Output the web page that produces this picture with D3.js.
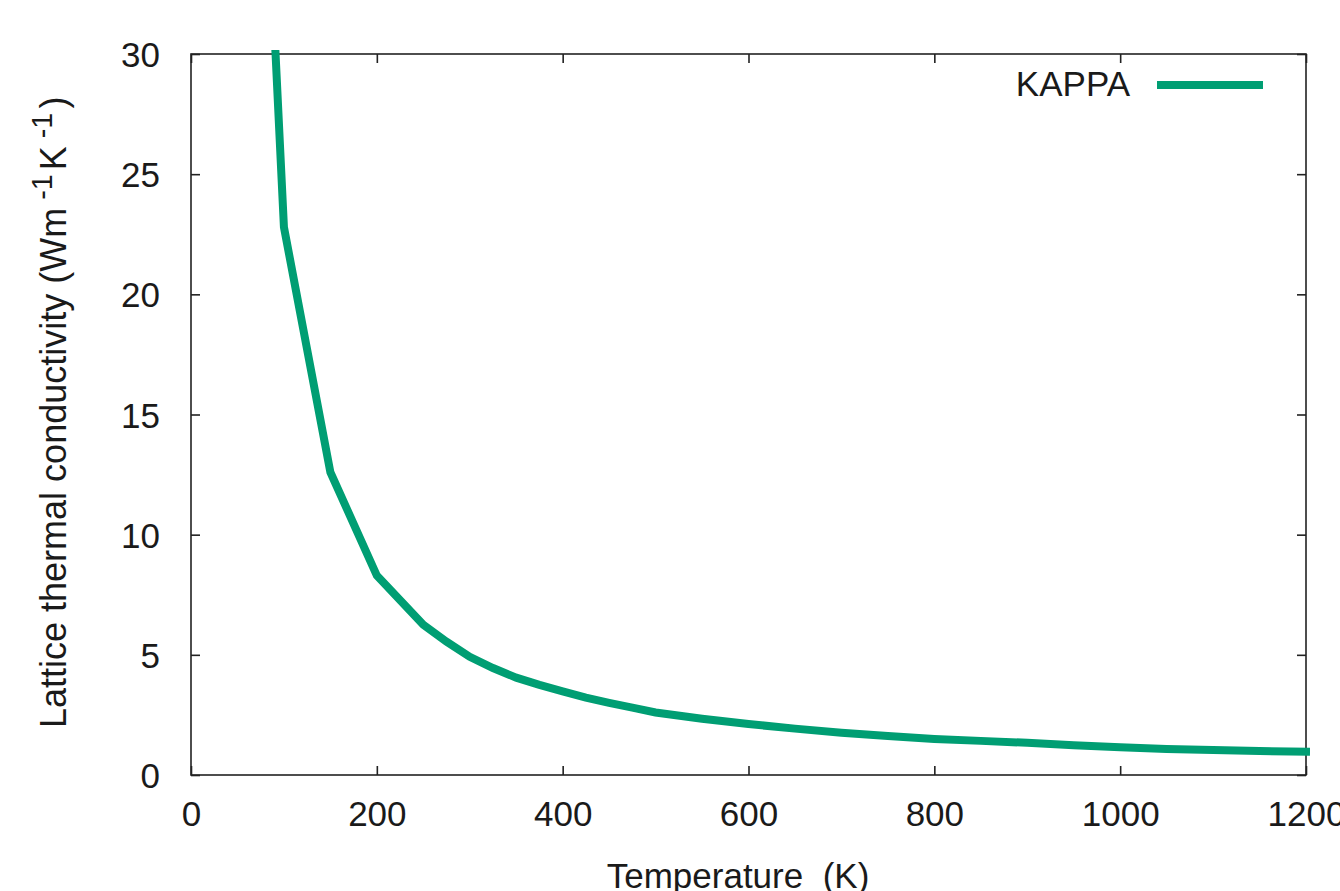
<!DOCTYPE html>
<html>
<head>
<meta charset="utf-8">
<script src="https://cdn.jsdelivr.net/npm/d3@7"></script>
<style>
  html, body { margin: 0; padding: 0; background: #fff; }
  svg { display: block; }
  text { font-family: "Liberation Sans", Arial, sans-serif; fill: #1a1a1a; }
</style>
</head>
<body>
<script>
// Data
const temperature = [90, 100, 150, 200, 250, 275, 300, 325, 350, 375, 400, 425, 450, 475, 500, 550, 600, 650, 700, 750, 800, 850, 900, 950, 1000, 1050, 1100, 1150, 1200];
const kappa = [30.8, 22.8, 12.6, 8.3, 6.25, 5.55, 4.92, 4.45, 4.05, 3.75, 3.48, 3.22, 3.0, 2.8, 2.6, 2.34, 2.12, 1.93, 1.76, 1.62, 1.5, 1.42, 1.34, 1.24, 1.15, 1.08, 1.04, 1.0, 0.97];
const xTicks = [0, 200, 400, 600, 800, 1000, 1200];
const yTicks = [0, 5, 10, 15, 20, 25, 30];
const seriesName = "KAPPA";
const xLabel = "Temperature  (K)";

const W = 1340, H = 891;
const mLeft = 191, mRight = 1306, mTop = 54, mBottom = 775;
const color = "#009e73";
const axisColor = "#222";
const fs = 35;

const svg = d3.select("body").append("svg").attr("width", W).attr("height", H);

const x = d3.scaleLinear().domain([0, 1200]).range([mLeft, mRight]);
const y = d3.scaleLinear().domain([0, 30]).range([mBottom, mTop]);

// clip
svg.append("clipPath").attr("id", "clip")
  .append("rect").attr("x", mLeft - 4).attr("y", mTop - 4)
  .attr("width", mRight - mLeft + 8).attr("height", mBottom - mTop + 8);

// frame
svg.append("rect").attr("x", mLeft).attr("y", mTop)
  .attr("width", mRight - mLeft).attr("height", mBottom - mTop)
  .attr("fill", "none").attr("stroke", axisColor).attr("stroke-width", 1.6);

const tickLen = 9;
const xAxisB = d3.axisBottom(x).tickValues(xTicks).tickSize(-tickLen).tickPadding(26).tickFormat(d3.format("d"));
const gxb = svg.append("g").attr("transform", `translate(0,${mBottom})`).call(xAxisB);
const xAxisT = d3.axisTop(x).tickValues(xTicks).tickSize(-tickLen).tickFormat("");
const gxt = svg.append("g").attr("transform", `translate(0,${mTop})`).call(xAxisT);
const yAxisL = d3.axisLeft(y).tickValues(yTicks).tickSize(-tickLen).tickPadding(31).tickFormat(d3.format("d"));
const gyl = svg.append("g").attr("transform", `translate(${mLeft},0)`).call(yAxisL);
const yAxisR = d3.axisRight(y).tickValues(yTicks).tickSize(-tickLen).tickFormat("");
const gyr = svg.append("g").attr("transform", `translate(${mRight},0)`).call(yAxisR);

[gxb, gxt, gyl, gyr].forEach(g => {
  g.select(".domain").remove();
  g.selectAll(".tick line").attr("stroke", axisColor).attr("stroke-width", 1.6);
  g.selectAll(".tick text").attr("font-size", fs).attr("font-family", "Liberation Sans, Arial, sans-serif").attr("fill", "#1a1a1a");
});
gxb.selectAll(".tick text").attr("dy", "0.71em");
gyl.selectAll(".tick text").attr("dy", "0.36em");

// curve
const line = d3.line().x((d, i) => x(temperature[i])).y(d => y(d));
svg.append("path").datum(kappa)
  .attr("clip-path", "url(#clip)")
  .attr("d", line)
  .attr("fill", "none").attr("stroke", color)
  .attr("stroke-width", 8).attr("stroke-linejoin", "miter").attr("stroke-linecap", "square");

// legend
svg.append("text").attr("x", 1130).attr("y", 96).attr("text-anchor", "end")
  .attr("font-size", fs).text(seriesName);
svg.append("line").attr("x1", 1157).attr("x2", 1263).attr("y1", 85).attr("y2", 85)
  .attr("stroke", color).attr("stroke-width", 8);

// x label
svg.append("text").attr("x", 738).attr("y", 888).attr("text-anchor", "middle")
  .attr("font-size", fs).style("white-space", "pre").text(xLabel);

// y label with superscripts
const yfs = 36;
const yl = svg.append("text")
  .attr("transform", `translate(66,728) rotate(-90)`)
  .attr("text-anchor", "start").attr("font-size", yfs).style("white-space", "pre");
yl.append("tspan").text("Lattice thermal conductivity (Wm");
yl.append("tspan").attr("font-size", yfs * 0.8).attr("dy", -14).attr("dx", 8).text("-1");
yl.append("tspan").attr("dy", 14).attr("dx", 4).text("K");
yl.append("tspan").attr("font-size", yfs * 0.8).attr("dy", -14).attr("dx", 8).text("-1");
yl.append("tspan").attr("dy", 14).attr("dx", 4).text(")");
</script>
</body>
</html>
